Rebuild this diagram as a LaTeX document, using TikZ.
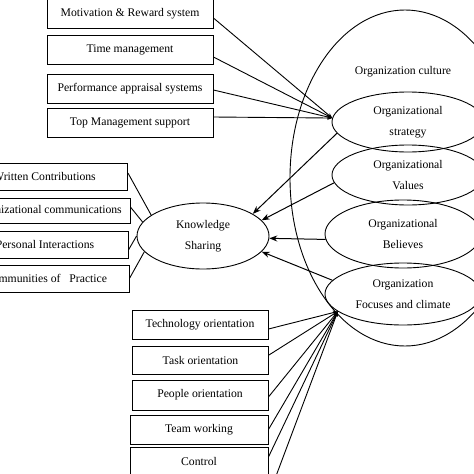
\documentclass[tikz,border=0pt]{standalone}
\usepackage{fontspec}
\setmainfont{Liberation Serif}
\usetikzlibrary{shapes.geometric,arrows.meta}
\begin{document}
\begin{tikzpicture}[x=1pt,y=-1pt,
  every node/.style={font=\fontsize{11.7}{21}\selectfont},
  box/.style={draw, rectangle, line width=0.9pt, inner sep=0pt, minimum height=29pt},
  topbox/.style={box, minimum width=166pt},
  leftbox/.style={box, minimum width=166pt, minimum height=27pt},
  botbox/.style={box, minimum width=136pt},
  ell/.style={draw, ellipse, line width=0.9pt, inner sep=0pt, align=center},
  link/.style={line width=0.9pt},
  bigarrow/.style={line width=1pt, -{Stealth[length=8pt,width=6pt]}},
  smallarrow/.style={line width=0.9pt, -{Stealth[length=5pt,width=4pt]}},
]
\useasboundingbox (0,0) rectangle (474,474);
\clip (0,0) rectangle (474,474);

% top group
\node[topbox] (mot) at (130,13.5) {Motivation \& Reward system};
\node[topbox] (tim) at (130,49.5) {Time management};
\node[topbox] (per) at (130,88.5) {Performance appraisal systems};
\node[topbox] (top) at (130,122.5) {Top Management support};

% left group
\node[leftbox] (wri) at (44.5,176.5) {Written Contributions};
\node[leftbox, minimum height=25pt] (com) at (47,210.5) {Organizational communications};
\node[leftbox] (pin) at (45,244.5) {Personal Interactions};
\node[leftbox] (cop) at (46,278.5) {Communities of\ \ \ Practice};

% bottom group
\node[botbox] (tec) at (200,324.5) {Technology orientation};
\node[botbox, minimum height=28pt] (tas) at (200.5,360) {Task orientation};
\node[botbox, minimum height=30pt] (peo) at (200,395) {People orientation};
\node[botbox, minimum width=138pt] (tea) at (199,429.5) {Team working};
\node[botbox, minimum width=138pt] (con) at (199,461.5) {Control};

% ellipses
\node[ell, minimum width=230pt, minimum height=336pt] (cul) at (405,178) {};
\node (cult) at (403,72) {Organization culture};
\node[ell, minimum width=152pt, minimum height=60pt] (str) at (408,122) {Organizational\\strategy};
\node[ell, minimum width=152pt, minimum height=60pt] (val) at (408,175) {Organizational\\Values};
\node[ell, minimum width=156pt, minimum height=68pt] (bel) at (403,234) {Organizational\\Believes};
\node[ell, minimum width=156pt, minimum height=62pt] (foc) at (403,294) {Organization\\Focuses and climate};
\node[ell, minimum width=132pt, minimum height=66pt] (ks) at (203,236) {Knowledge\\Sharing};

% top connectors
\draw[smallarrow] ([yshift=-4.5pt]mot.east) -- (str.177);
\draw[smallarrow] ([yshift=-7.5pt]tim.east) -- (str.177);
\draw[smallarrow] ([yshift=-1.5pt]per.east) -- (str.177);
\draw[smallarrow] ([yshift=5.5pt]top.east) -- (str.177);

% left connectors
\draw[link] ([yshift=3.5pt]wri.east) -- (ks.158);
\draw[link] ([yshift=3.5pt]com.east) -- (ks.167);
\draw[link] ([yshift=-5.5pt]pin.east) -- (ks.180);
\draw[link] (cop.east) -- (ks.195);

% arrows into knowledge sharing
\draw[bigarrow] (str.189) -- (ks.24);
\draw[bigarrow] (val.186) -- (ks.15);
\draw[bigarrow] (bel.184) -- (ks.-2);
\draw[bigarrow] (foc.169) -- (ks.-15);

% bottom connectors
\coordinate (off) at (267,500);
\draw[smallarrow] ([yshift=-4.5pt]tec.east) -- (foc.195);
\draw[smallarrow] ([yshift=5pt]tas.east) -- (foc.195);
\draw[smallarrow] ([yshift=-2pt]peo.east) -- (foc.195);
\draw[smallarrow] (tea.east) -- (foc.195);
\draw[smallarrow] ([yshift=4.5pt]con.east) -- (foc.195);
\draw[smallarrow] (off) -- (foc.195);
\end{tikzpicture}
\end{document}
